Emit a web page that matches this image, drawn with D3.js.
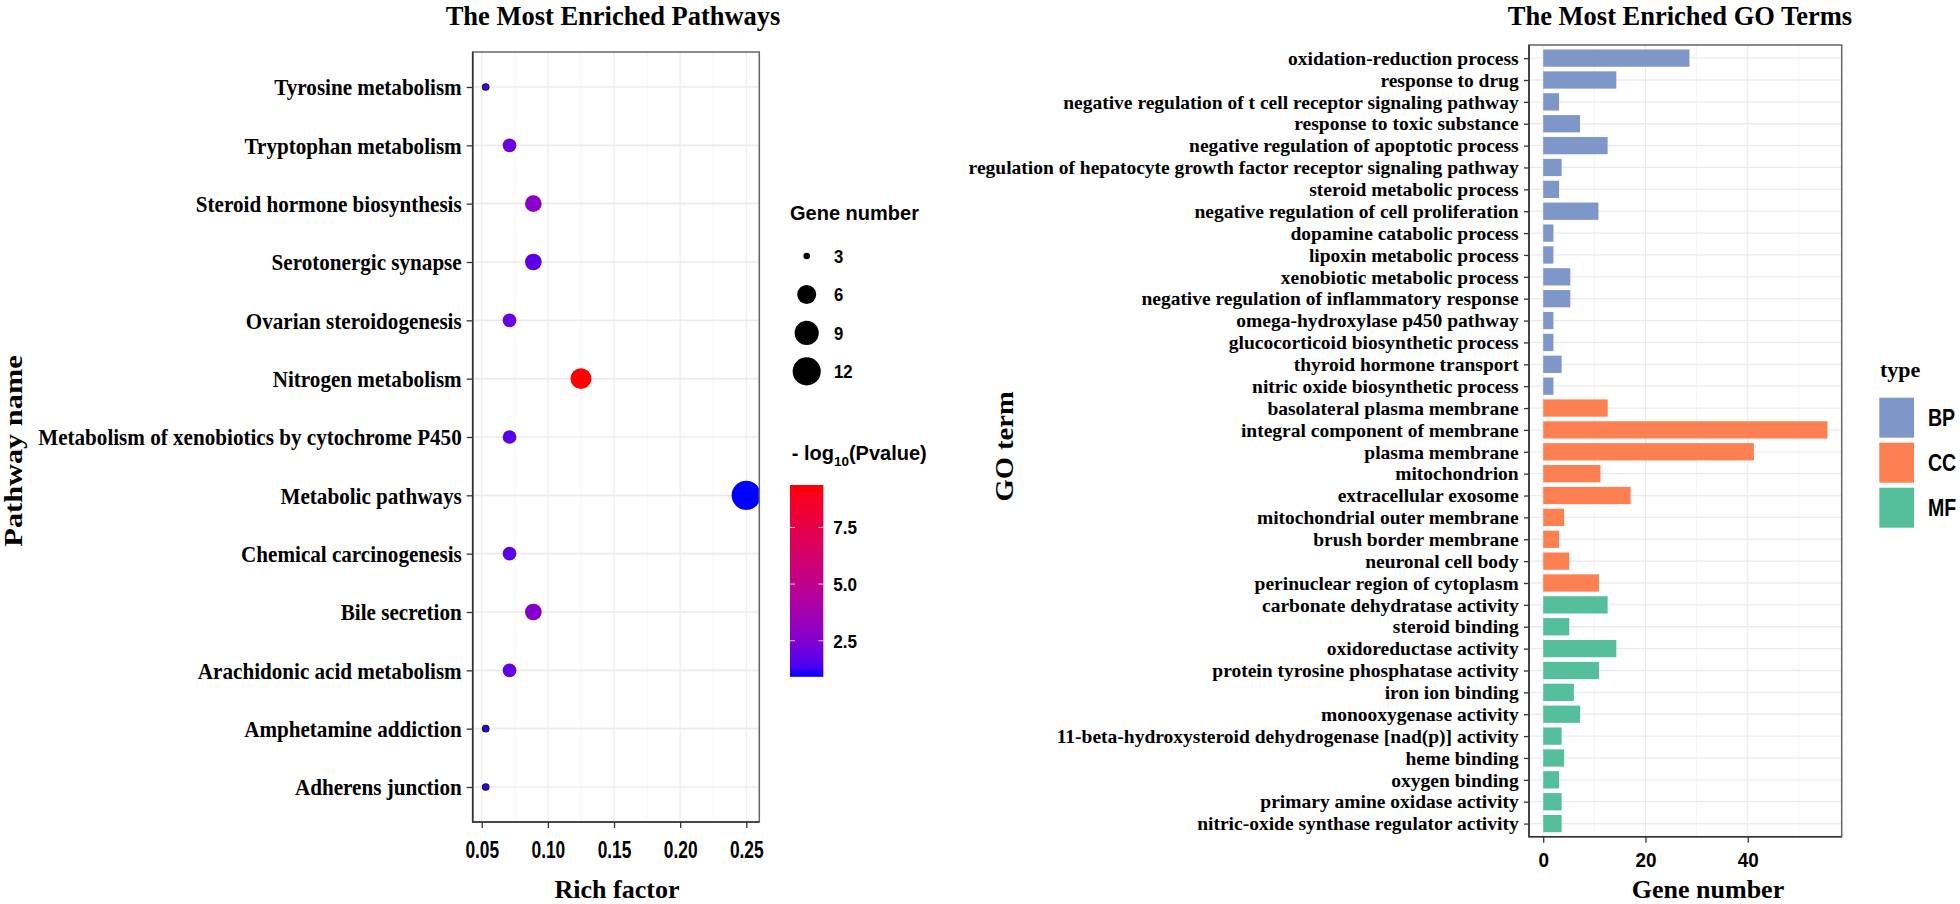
<!DOCTYPE html>
<html>
<head>
<meta charset="utf-8">
<script src="https://cdn.jsdelivr.net/npm/d3@7"></script>
<style>body{margin:0;background:#fff}</style>
</head>
<body>
<script>
// pathway dot plot (left)
const pathways = ["Tyrosine metabolism","Tryptophan metabolism","Steroid hormone biosynthesis","Serotonergic synapse","Ovarian steroidogenesis","Nitrogen metabolism","Metabolism of xenobiotics by cytochrome P450","Metabolic pathways","Chemical carcinogenesis","Bile secretion","Arachidonic acid metabolism","Amphetamine addiction","Adherens junction"];
const richFactor = [0.053,0.071,0.089,0.089,0.071,0.125,0.071,0.25,0.071,0.089,0.071,0.053,0.053];
const geneCount = [3,4,5,5,4,7,4,13,4,5,4,3,3];
const logP = [1.33,2.0,2.8,1.67,1.93,9.37,1.6,0.91,1.67,2.6,1.84,1.08,1.08];
const richTicks = [0.05,0.10,0.15,0.20,0.25];
const sizeBreaks = [3,6,9,12];
const colorTicks = [2.5,5.0,7.5];

// GO bar chart (right)
const goTerms = ["oxidation-reduction process","response to drug","negative regulation of t cell receptor signaling pathway","response to toxic substance","negative regulation of apoptotic process","regulation of hepatocyte growth factor receptor signaling pathway","steroid metabolic process","negative regulation of cell proliferation","dopamine catabolic process","lipoxin metabolic process","xenobiotic metabolic process","negative regulation of inflammatory response","omega-hydroxylase p450 pathway","glucocorticoid biosynthetic process","thyroid hormone transport","nitric oxide biosynthetic process","basolateral plasma membrane","integral component of membrane","plasma membrane","mitochondrion","extracellular exosome","mitochondrial outer membrane","brush border membrane","neuronal cell body","perinuclear region of cytoplasm","carbonate dehydratase activity","steroid binding","oxidoreductase activity","protein tyrosine phosphatase activity","iron ion binding","monooxygenase activity","11-beta-hydroxysteroid dehydrogenase [nad(p)] activity","heme binding","oxygen binding","primary amine oxidase activity","nitric-oxide synthase regulator activity"];
const goType = ["BP","BP","BP","BP","BP","BP","BP","BP","BP","BP","BP","BP","BP","BP","BP","BP","CC","CC","CC","CC","CC","CC","CC","CC","CC","MF","MF","MF","MF","MF","MF","MF","MF","MF","MF","MF"];
const goCount = [28.6,14.3,3.1,7.2,12.6,3.6,3.1,10.8,2,2,5.3,5.3,2,2,3.6,2,12.6,55.6,41.2,11.2,17.1,4.1,3.1,5.1,10.9,12.6,5.1,14.3,10.9,6,7.2,3.6,4.1,3.1,3.6,3.6];
const countTicks = [0,20,40];
const typeNames = ["BP","CC","MF"];
const typeColors = ["#7f96c8","#fd8052","#55bf9b"];

const W = 1960, H = 904;
const serif = '"Liberation Serif","Times New Roman",serif';
const sans = '"Liberation Sans",Arial,sans-serif';

const svg = d3.select('body').append('svg').attr('width', W).attr('height', H);
svg.append('rect').attr('width', W).attr('height', H).attr('fill', '#fff');
const defs = svg.append('defs');

// bold text with optional rotation and stretch
function txt(parent, x, y, s, size, font, o) {
  o = o || {};
  return parent.append('text')
    .attr('transform', 'translate(' + x + ',' + y + ')' + (o.rot ? ' rotate(' + o.rot + ')' : '') + ' scale(' + (o.sx || 1) + ',' + (o.sy || 1) + ')')
    .attr('text-anchor', o.anchor || 'start')
    .attr('dy', o.dy || null)
    .attr('font-family', font).attr('font-weight', 'bold').attr('font-size', size)
    .attr('fill', '#000')
    .text(s);
}

function panelFrame(g, P) {
  g.append('rect').attr('x', P.x0).attr('y', P.y0).attr('width', P.x1 - P.x0).attr('height', P.y1 - P.y0)
    .attr('fill', 'none').attr('stroke', '#666').attr('stroke-width', 1.5);
  g.append('path').attr('d', 'M' + P.x0 + ',' + P.y0 + 'V' + P.y1 + 'H' + P.x1)
    .attr('fill', 'none').attr('stroke', '#333').attr('stroke-width', 1.6);
}

// ---------- left: dot plot ----------
const L = {x0: 472.7, x1: 759.3, y0: 52, y1: 822};
const rx = d3.extent(richFactor), rpad = (rx[1] - rx[0]) * 0.05;
const x1 = d3.scaleLinear().domain([rx[0] - rpad, rx[1] + rpad]).range([L.x0, L.x1]);
const y1 = d3.scalePoint().domain(pathways).range([L.y0, L.y1]).padding(0.6);
const pLo = d3.min(logP), pHi = d3.max(logP);
const color = d3.scaleLinear().domain([pLo, pHi]).range(['blue', 'red']).interpolate(d3.interpolateLab);
const gMin = d3.min(geneCount), gMax = d3.max(geneCount);
const rad = d3.scaleLinear().domain([0, Math.sqrt(gMax - gMin)]).range([3.25, 3.25 + 3.6 * Math.sqrt(gMax - gMin)]);
const radius = n => rad(Math.sqrt(n - gMin));

const left = svg.append('g');
defs.append('clipPath').attr('id', 'clipL').append('rect')
  .attr('x', L.x0).attr('y', L.y0).attr('width', L.x1 - L.x0).attr('height', L.y1 - L.y0);

const minorRich = d3.range(richTicks.length - 1).map(i => (richTicks[i] + richTicks[i + 1]) / 2);
left.selectAll('.minor').data(minorRich).enter().append('line')
  .attr('x1', d => x1(d)).attr('x2', d => x1(d)).attr('y1', L.y0).attr('y2', L.y1)
  .attr('stroke', '#f2f2f2').attr('stroke-width', 0.8);
left.selectAll('.vmaj').data(richTicks).enter().append('line')
  .attr('x1', d => x1(d)).attr('x2', d => x1(d)).attr('y1', L.y0).attr('y2', L.y1)
  .attr('stroke', '#ebebeb').attr('stroke-width', 1.1);
left.selectAll('.hmaj').data(pathways).enter().append('line')
  .attr('x1', L.x0).attr('x2', L.x1).attr('y1', d => y1(d)).attr('y2', d => y1(d))
  .attr('stroke', '#ebebeb').attr('stroke-width', 1.6);

left.append('g').attr('clip-path', 'url(#clipL)')
  .selectAll('circle').data(pathways).enter().append('circle')
  .attr('cx', (d, i) => x1(richFactor[i]))
  .attr('cy', d => y1(d))
  .attr('r', (d, i) => radius(geneCount[i]))
  .attr('fill', (d, i) => color(logP[i]))
  .attr('stroke', (d, i) => radius(geneCount[i]) < 4.5 ? '#1a1a1a' : 'none')
  .attr('stroke-width', 1.2);

panelFrame(left, L);

const axL = left.append('g').attr('transform', 'translate(' + L.x0 + ',0)')
  .call(d3.axisLeft(y1).tickSize(6).tickPadding(6.5));
axL.select('.domain').remove();
axL.selectAll('line').attr('stroke', '#333').attr('stroke-width', 1.3);
axL.selectAll('text').attr('font-family', serif).attr('font-weight', 'bold').attr('font-size', 24)
  .attr('fill', '#000').attr('transform', 'scale(0.88,1)');

const axB = left.append('g').attr('transform', 'translate(0,' + L.y1 + ')')
  .call(d3.axisBottom(x1).tickValues(richTicks).tickFormat(d3.format('.2f')).tickSize(6).tickPadding(14));
axB.select('.domain').remove();
axB.selectAll('line').attr('stroke', '#333').attr('stroke-width', 1.3);
axB.selectAll('text').attr('font-family', sans).attr('font-weight', 'bold').attr('font-size', 23)
  .attr('fill', '#000').attr('transform', 'scale(0.755,1)');

txt(svg, 613, 25, 'The Most Enriched Pathways', 26.5, serif, {anchor: 'middle', sy: 1.05});
txt(svg, 617, 898.3, 'Rich factor', 26, serif, {anchor: 'middle'});
txt(svg, 21.7, 451, 'Pathway name', 25.5, serif, {anchor: 'middle', rot: -90, sx: 1.19});

// size legend
const legS = svg.append('g');
txt(legS, 790, 219.6, 'Gene number', 20, sans);
const keyY = d3.scalePoint().domain(sizeBreaks).range([256, 371.4]);
legS.selectAll('circle').data(sizeBreaks).enter().append('circle')
  .attr('cx', 806.7).attr('cy', d => keyY(d)).attr('r', d => radius(d)).attr('fill', '#000');
sizeBreaks.forEach(d => txt(legS, 834, keyY(d), String(d), 19, sans, {dy: '0.36em', sx: 0.88}));

// colour bar legend
const legC = svg.append('g');
const tl = txt(legC, 791.7, 460, '', 20, sans);
tl.append('tspan').text('- log');
tl.append('tspan').attr('font-size', 13.5).attr('dy', 6).text('10');
tl.append('tspan').attr('dy', -6).text('(Pvalue)');
const cb = {x0: 790, x1: 823.3, y0: 485, y1: 676.8};
const cy = d3.scaleLinear().domain([pLo, pHi]).range([cb.y1, cb.y0]);
const grad = defs.append('linearGradient').attr('id', 'cbar').attr('x1', 0).attr('y1', 1).attr('x2', 0).attr('y2', 0);
d3.range(0, 1.0001, 0.05).forEach(t => grad.append('stop').attr('offset', t).attr('stop-color', color(pLo + t * (pHi - pLo))));
legC.append('rect').attr('x', cb.x0).attr('y', cb.y0).attr('width', cb.x1 - cb.x0).attr('height', cb.y1 - cb.y0)
  .attr('fill', 'url(#cbar)');
colorTicks.forEach(v => {
  legC.append('line').attr('x1', cb.x0).attr('x2', cb.x0 + 5).attr('y1', cy(v)).attr('y2', cy(v)).attr('stroke', '#fff').attr('stroke-width', 1).attr('opacity', 0.8);
  legC.append('line').attr('x1', cb.x1 - 5).attr('x2', cb.x1).attr('y1', cy(v)).attr('y2', cy(v)).attr('stroke', '#fff').attr('stroke-width', 1).attr('opacity', 0.8);
  txt(legC, 833.3, cy(v), d3.format('.1f')(v), 19, sans, {dy: '0.36em', sx: 0.9});
});

// ---------- right: GO bar chart ----------
const R = {x0: 1529, x1: 1841.7, y0: 45, y1: 836.7};
const cMax = d3.max(goCount);
const x2 = d3.scaleLinear().domain([-0.05 * cMax, 1.05 * cMax]).range([R.x0, R.x1]);
const y2 = d3.scalePoint().domain(goTerms).range([R.y0, R.y1]).padding(0.6);
const barH = y2.step() * 0.79;
const typeColor = d3.scaleOrdinal().domain(typeNames).range(typeColors);

const right = svg.append('g');
const minorCount = [10, 30, 50];
right.selectAll('.minor').data(minorCount).enter().append('line')
  .attr('x1', d => x2(d)).attr('x2', d => x2(d)).attr('y1', R.y0).attr('y2', R.y1)
  .attr('stroke', '#f2f2f2').attr('stroke-width', 0.8);
right.selectAll('.vmaj').data(countTicks).enter().append('line')
  .attr('x1', d => x2(d)).attr('x2', d => x2(d)).attr('y1', R.y0).attr('y2', R.y1)
  .attr('stroke', '#ebebeb').attr('stroke-width', 1.1);
right.selectAll('.hmaj').data(goTerms).enter().append('line')
  .attr('x1', R.x0).attr('x2', R.x1).attr('y1', d => y2(d)).attr('y2', d => y2(d))
  .attr('stroke', '#ebebeb').attr('stroke-width', 1.3);

right.selectAll('.bar').data(goTerms).enter().append('rect')
  .attr('x', x2(0))
  .attr('y', d => y2(d) - barH / 2)
  .attr('width', (d, i) => x2(goCount[i]) - x2(0))
  .attr('height', barH)
  .attr('fill', (d, i) => typeColor(goType[i]));

panelFrame(right, R);

const axL2 = right.append('g').attr('transform', 'translate(' + R.x0 + ',0)')
  .call(d3.axisLeft(y2).tickSize(5).tickPadding(5.3));
axL2.select('.domain').remove();
axL2.selectAll('line').attr('stroke', '#333').attr('stroke-width', 1.3);
axL2.selectAll('text').attr('font-family', serif).attr('font-weight', 'bold').attr('font-size', 19.5).attr('fill', '#000');

const axB2 = right.append('g').attr('transform', 'translate(0,' + R.y1 + ')')
  .call(d3.axisBottom(x2).tickValues(countTicks).tickSize(6).tickPadding(9));
axB2.select('.domain').remove();
axB2.selectAll('line').attr('stroke', '#333').attr('stroke-width', 1.3);
axB2.selectAll('text').attr('font-family', sans).attr('font-weight', 'bold').attr('font-size', 21)
  .attr('fill', '#000').attr('transform', 'scale(0.9,1)');

txt(svg, 1680, 25, 'The Most Enriched GO Terms', 26.5, serif, {anchor: 'middle', sy: 1.05});
txt(svg, 1708, 898.3, 'Gene number', 26, serif, {anchor: 'middle'});
txt(svg, 1013, 446.4, 'GO term', 26, serif, {anchor: 'middle', rot: -90, sx: 1.1});

// type legend
const legT = svg.append('g');
txt(legT, 1880, 376.7, 'type', 22, serif);
typeNames.forEach((t, i) => {
  const ky = 397.7 + i * 45;
  legT.append('rect').attr('x', 1879.3).attr('y', ky).attr('width', 34.7).attr('height', 40).attr('fill', typeColor(t));
  txt(legT, 1928, ky + 20, t, 23, sans, {dy: '0.36em', sx: 0.85});
});
</script>
</body>
</html>
